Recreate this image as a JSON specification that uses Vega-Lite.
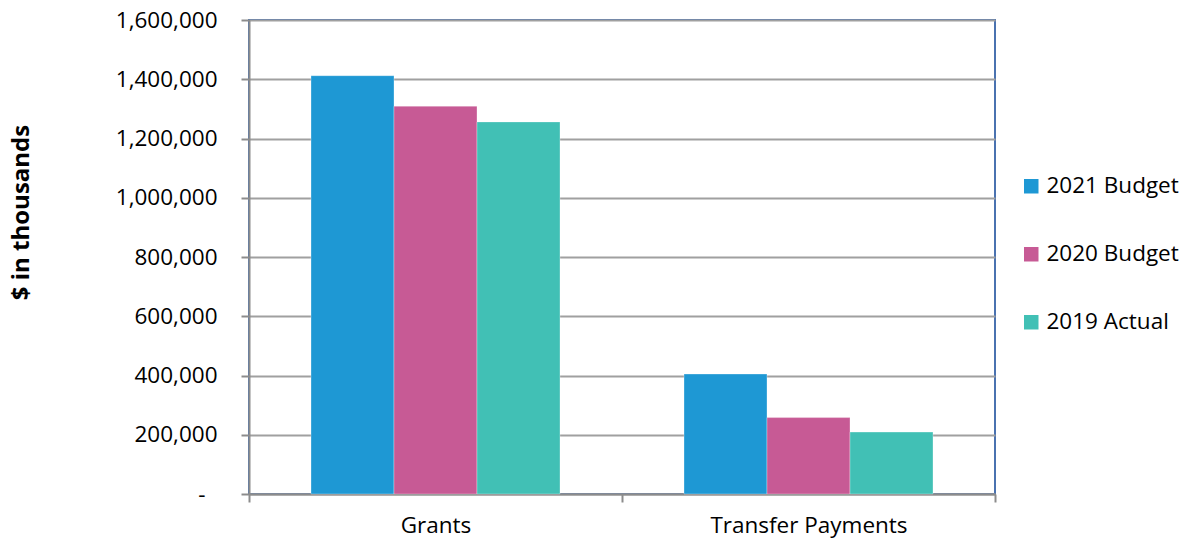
{
  "$schema": "https://vega.github.io/schema/vega-lite/v6.json",
  "width": 746,
  "height": 474,
  "autosize": {"type": "none"},
  "padding": {"left": 249, "top": 20, "right": 193, "bottom": 54},
  "background": "white",
  "config": {
    "font": "Open Sans",
    "view": {"stroke": "#4A72B0", "strokeWidth": 2},
    "axis": {"labelFont": "Open Sans", "titleFont": "Open Sans", "labelColor": "#000", "titleColor": "#000"},
    "legend": {"labelFont": "Open Sans"}
  },
  "data": {
    "values": [
      {"category": "Grants", "series": "2021 Budget", "value": 1412000},
      {"category": "Grants", "series": "2020 Budget", "value": 1309000},
      {"category": "Grants", "series": "2019 Actual", "value": 1256000},
      {"category": "Transfer Payments", "series": "2021 Budget", "value": 405000},
      {"category": "Transfer Payments", "series": "2020 Budget", "value": 258000},
      {"category": "Transfer Payments", "series": "2019 Actual", "value": 209000}
    ]
  },
  "mark": {"type": "bar", "stroke": "#ffffff", "strokeWidth": 0.6, "strokeOpacity": 0.5},
  "encoding": {
    "x": {
      "field": "category",
      "type": "nominal",
      "sort": ["Grants", "Transfer Payments"],
      "scale": {"paddingInner": 0, "paddingOuter": 0},
      "axis": {
        "title": null,
        "labelAngle": 0,
        "labelFontSize": 22.5,
        "labelPadding": 12,
        "labelLimit": 400,
        "tickBand": "extent",
        "tickSize": 8,
        "tickColor": "#8C8C8C",
        "tickWidth": 2,
        "domainColor": "#8C8C8C",
        "domainWidth": 2,
        "grid": false
      }
    },
    "xOffset": {
      "field": "series",
      "type": "nominal",
      "sort": ["2021 Budget", "2020 Budget", "2019 Actual"],
      "scale": {"paddingInner": 0, "paddingOuter": 0.747}
    },
    "y": {
      "field": "value",
      "type": "quantitative",
      "scale": {"domain": [0, 1600000], "nice": false},
      "axis": {
        "title": "$ in thousands",
        "titleFontSize": 24,
        "titleFontWeight": "bold",
        "titleAngle": 270,
        "titleAlign": "center",
        "titleBaseline": "middle",
        "titleX": -228,
        "titleY": 192,
        "values": [0, 200000, 400000, 600000, 800000, 1000000, 1200000, 1400000, 1600000],
        "labelExpr": "datum.value == 0 ? '-' : format(datum.value, ',')",
        "labelFontSize": 22.5,
        "labelPadding": {"condition": {"test": "datum.value == 0", "value": 36}, "value": 24},
        "tickSize": 8,
        "tickColor": "#8C8C8C",
        "tickWidth": 2,
        "domainColor": "#8C8C8C",
        "domainWidth": 2,
        "grid": true,
        "gridColor": "#A0A0A0",
        "gridWidth": 2
      }
    },
    "color": {
      "field": "series",
      "type": "nominal",
      "sort": ["2021 Budget", "2020 Budget", "2019 Actual"],
      "scale": {"domain": ["2021 Budget", "2020 Budget", "2019 Actual"], "range": ["#1E98D4", "#C75A95", "#41C0B5"]},
      "legend": {
        "title": null,
        "orient": "none",
        "legendX": 771,
        "legendY": 155,
        "symbolType": "square",
        "symbolSize": 210,
        "symbolStrokeWidth": 0,
        "labelFontSize": 22.5,
        "labelOffset": 4,
        "labelLimit": 300,
        "rowPadding": 45
      }
    }
  }
}
